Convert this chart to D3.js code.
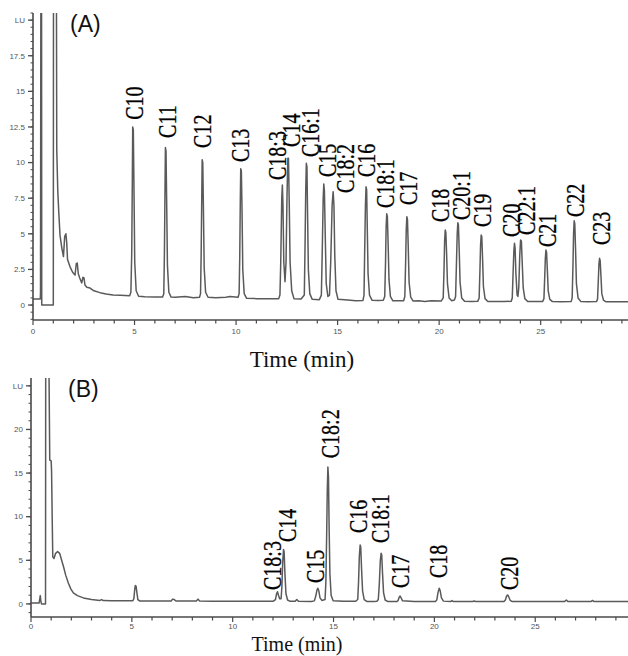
<!DOCTYPE html>
<html>
<head>
<meta charset="utf-8">
<script src="https://cdn.jsdelivr.net/npm/d3@7"></script>
<style>
  body { margin: 0; background: #fff; }
  svg { display: block; }
</style>
</head>
<body>
<div id="chart"></div>
<script>
////////////////////////////////////////////////////////////////////////
// Data, [time (min), signal (LU)]

// (A) standard mixture
let traceA = [
  [0,0.42],[0.36,0.42],[0.37,0.9],[0.39,25],[0.42,25],[0.43,0],[1.0,0],[1.01,25],[1.15,25],
  [1.17,10.9],[1.22,8],[1.27,6.5],[1.33,4.9],[1.42,4.0],[1.5,3.4],[1.56,4.8],[1.62,5.0],[1.66,4.4],
  [1.7,3.2],[1.82,2.7],[1.95,2.3],[2.07,2.1],[2.13,2.9],[2.18,2.95],[2.23,2.2],[2.3,1.9],[2.4,1.55],
  [2.46,1.95],[2.51,1.9],[2.56,1.4],[2.65,1.25],[2.81,1.19],[3.0,1.0],[3.3,0.87],[3.6,0.78],
  [3.94,0.7],[4.3,0.68],[4.76,0.66],
  [4.82,0.9],[4.86,3.5],[4.89,8.5],[4.91,12.5],[4.94,12.3],[4.97,8.5],[5.01,3.0],[5.08,1.0],[5.2,0.62],
  [5.5,0.58],[6.0,0.57],[6.38,0.56],
  [6.44,0.8],[6.47,3.5],[6.50,8],[6.52,11.05],[6.55,10.8],[6.58,7.5],[6.62,2.8],[6.69,0.9],[6.8,0.56],
  [7.0,0.55],[7.5,0.6],[7.9,0.52],[8.2,0.55],
  [8.25,0.8],[8.28,3.5],[8.31,7.5],[8.33,10.2],[8.36,10.0],[8.39,7.0],[8.43,2.6],[8.5,0.9],[8.62,0.55],
  [9.0,0.52],[9.5,0.55],[9.7,0.6],[10.1,0.55],
  [10.15,0.8],[10.18,3.3],[10.21,7.5],[10.23,9.57],[10.26,9.4],[10.29,7.0],[10.33,2.5],[10.4,0.8],[10.52,0.47],
  [11,0.45],[11.5,0.45],[12.1,0.45],
  [12.16,0.7],[12.2,3.0],[12.25,7.5],[12.28,8.43],[12.31,7.0],[12.35,3.0],[12.41,1.64],[12.46,3.0],
  [12.51,7.8],[12.55,10.3],[12.58,10.3],[12.62,7.0],[12.66,3.0],[12.74,1.0],[12.85,0.45],
  [13.2,0.42],
  [13.36,0.7],[13.39,3.5],[13.43,8],[13.46,9.95],[13.49,9.7],[13.52,6.5],[13.56,2.5],[13.63,0.8],[13.75,0.4],
  [14.1,0.38],
  [14.2,0.7],[14.24,3.5],[14.29,7.5],[14.32,8.5],[14.35,8.0],[14.39,5.0],[14.44,1.5],[14.52,0.6],
  [14.6,0.7],[14.66,3.0],[14.73,7.0],[14.78,7.96],[14.82,7.0],[14.86,3.5],[14.92,1.0],[15.02,0.4],
  [15.5,0.35],[15.9,0.3],[16.25,0.32],
  [16.3,0.7],[16.33,3.5],[16.37,7.0],[16.40,8.3],[16.43,8.1],[16.46,5.5],[16.5,2.2],[16.57,0.7],[16.7,0.33],
  [17.0,0.32],[17.25,0.33],
  [17.32,0.6],[17.36,3.0],[17.39,5.5],[17.42,6.4],[17.45,6.2],[17.49,4.2],[17.53,1.8],[17.6,0.6],[17.72,0.3],
  [18.0,0.3],[18.25,0.3],
  [18.31,0.6],[18.35,3.0],[18.38,5.3],[18.41,6.2],[18.44,6.0],[18.48,4.0],[18.52,1.6],[18.6,0.55],[18.72,0.28],
  [19.0,0.3],[19.3,0.25],[19.6,0.3],[20.1,0.28],
  [20.2,0.5],[20.24,2.5],[20.27,4.5],[20.30,5.27],[20.33,5.1],[20.37,3.5],[20.41,1.5],[20.49,0.5],
  [20.62,0.3],[20.75,0.35],[20.81,0.6],[20.85,2.8],[20.89,5.0],[20.92,5.78],[20.95,5.6],[20.99,3.8],
  [21.03,1.6],[21.11,0.5],[21.25,0.26],
  [21.6,0.25],[21.9,0.26],
  [21.97,0.5],[22.01,2.5],[22.04,4.2],[22.07,4.92],[22.1,4.8],[22.14,3.2],[22.18,1.3],[22.26,0.45],[22.4,0.25],
  [22.8,0.24],[23.2,0.25],[23.55,0.26],
  [23.6,0.5],[23.64,2.2],[23.68,3.8],[23.71,4.33],[23.74,4.0],[23.78,2.2],[23.84,0.7],[23.88,0.6],
  [23.92,1.2],[23.97,3.5],[24.01,4.56],[24.05,4.5],[24.09,3.0],[24.14,1.2],[24.22,0.45],[24.36,0.25],
  [24.7,0.24],[25.1,0.25],
  [25.16,0.45],[25.2,2.0],[25.23,3.3],[25.26,3.86],[25.29,3.7],[25.33,2.4],[25.37,1.0],[25.45,0.4],[25.58,0.24],
  [26.0,0.23],[26.5,0.24],
  [26.55,0.5],[26.59,2.8],[26.62,5.0],[26.65,5.92],[26.68,5.7],[26.72,3.8],[26.76,1.5],[26.84,0.5],[26.98,0.24],
  [27.3,0.23],[27.75,0.24],
  [27.8,0.42],[27.84,1.8],[27.87,2.9],[27.9,3.28],[27.93,3.1],[27.97,2.0],[28.01,0.8],[28.09,0.35],[28.22,0.23],
  [28.8,0.23],[29.4,0.23]
];

// peak names for (A) and where each name sits, [time, signal] of the foot of the text
let namesA  = ["C10","C11","C12","C13","C18:3","C14","C16:1","C15","C18:2","C16",
               "C18:1","C17","C18","C20:1","C19","C20","C22:1","C21","C22","C23"];
let nameTA  = [5.00, 6.60, 8.33, 10.20, 12.02, 12.73, 13.65, 14.51, 15.37, 16.40,
               17.34, 18.50, 20.07, 21.08, 22.12, 23.55, 24.29, 25.32, 26.70, 27.96];
let nameVA  = [13.0, 11.73, 11.03, 10.04, 8.78, 11.1, 10.39, 8.99, 7.87, 8.99,
               6.81, 7.02, 5.83, 5.97, 5.48, 4.78, 4.92, 4.07, 6.18, 4.21];

// (B) sample
let traceB = [
  [0,0.1],[0.4,0.1],[0.43,0.5],[0.46,0.95],[0.49,0.3],[0.52,0],[0.72,0],[0.73,30],[0.88,30],
  [0.93,16.5],[1.0,16.4],[1.02,15.2],[1.05,10],[1.08,5.4],[1.14,5.2],[1.22,5.8],[1.32,6.0],
  [1.42,5.8],[1.52,5.0],[1.62,4.2],[1.72,3.3],[1.85,2.4],[1.98,1.7],[2.1,1.26],[2.3,0.95],
  [2.6,0.69],[3.0,0.5],[3.42,0.4],[3.5,0.5],[3.58,0.38],[4.0,0.35],[4.5,0.35],[5.05,0.36],
  [5.1,0.6],[5.14,1.6],[5.17,2.1],[5.21,2.05],[5.25,1.3],[5.3,0.5],[5.4,0.33],
  [6.0,0.33],[6.95,0.33],[7.02,0.55],[7.1,0.5],[7.2,0.33],[8.2,0.33],[8.28,0.55],[8.36,0.33],
  [9,0.32],[10,0.3],[11,0.3],[12.0,0.3],
  [12.12,0.5],[12.18,1.2],[12.22,1.4],[12.27,1.0],[12.33,0.6],
  [12.4,0.6],[12.44,2.0],[12.48,4.8],[12.52,6.25],[12.55,6.0],[12.59,3.5],[12.64,1.2],[12.72,0.45],[12.85,0.3],
  [13.1,0.3],[13.18,0.5],[13.26,0.3],[13.9,0.28],
  [14.05,0.35],[14.12,0.9],[14.18,1.6],[14.22,1.8],[14.27,1.5],[14.33,0.7],[14.42,0.4],
  [14.58,0.5],[14.62,2.5],[14.66,8],[14.69,13],[14.72,15.7],[14.75,14.5],[14.78,9],[14.82,3.5],
  [14.88,1.0],[14.98,0.35],
  [15.5,0.3],[16.1,0.3],
  [16.2,0.5],[16.24,2.5],[16.28,5.5],[16.32,6.75],[16.35,6.5],[16.39,4.0],[16.44,1.5],[16.52,0.5],[16.65,0.28],
  [17.0,0.27],[17.15,0.3],
  [17.22,0.5],[17.27,2.3],[17.32,5.0],[17.36,5.8],[17.39,5.6],[17.43,3.5],[17.48,1.3],[17.56,0.45],[17.7,0.27],
  [18.15,0.27],
  [18.2,0.4],[18.26,0.8],[18.3,0.9],[18.35,0.7],[18.42,0.35],
  [19,0.27],[20.05,0.27],
  [20.12,0.45],[20.18,1.3],[20.24,1.8],[20.29,1.5],[20.35,0.7],[20.45,0.32],
  [20.8,0.27],[20.87,0.38],[20.94,0.27],[21.9,0.27],[21.97,0.33],[22.04,0.27],[23.45,0.27],
  [23.52,0.45],[23.58,0.9],[23.63,1.03],[23.68,0.85],[23.76,0.4],[23.86,0.27],
  [26.45,0.27],[26.54,0.45],[26.63,0.27],[27.76,0.27],[27.84,0.4],[27.92,0.27],[29.7,0.27]
];

let namesB = ["C18:3","C14","C15","C18:2","C16","C18:1","C17","C18","C20"];
let nameTB = [11.98, 12.72, 14.11, 14.83, 16.24, 17.31, 18.33, 20.21, 23.71];
let nameVB = [1.6, 7.09, 2.40, 16.7, 8.12, 6.98, 1.83, 2.97, 1.6];

// axis ticks
let xTicks  = [0, 5, 10, 15, 20, 25];
let yTicksA = [0, 2.5, 5, 7.5, 10, 12.5, 15, 17.5, 20];
let yTicksB = [0, 5, 10, 15, 20, 25];
let unitLabel = "LU";   // the top tick carries the unit instead of a number

////////////////////////////////////////////////////////////////////////
// Drawing

let svg = d3.select("#chart").append("svg")
  .attr("width", 628)
  .attr("height", 656);

let axisColor = "#4a4a4a";
let traceColor = "#5a5a5a";
let serif = "'Liberation Serif', 'Times New Roman', Times, serif";
let sans = "'Liberation Sans', Arial, sans-serif";

// one chromatogram panel
function drawPanel(p) {
  let x = d3.scaleLinear().domain(p.xDomain).range([p.left, p.right]);
  let y = d3.scaleLinear().domain(p.yDomain).range([p.bottom, p.top]);
  let g = svg.append("g");

  let clipId = "clip-" + p.tag;
  g.append("clipPath").attr("id", clipId)
    .append("rect")
    .attr("x", p.left).attr("y", p.top)
    .attr("width", p.right - p.left).attr("height", p.bottom - p.top);

  // trace
  let line = d3.line().x(d => x(d[0])).y(d => y(d[1]));
  g.append("path")
    .datum(p.trace)
    .attr("clip-path", "url(#" + clipId + ")")
    .attr("d", line)
    .attr("fill", "none")
    .attr("stroke", traceColor)
    .attr("stroke-width", 1.5)
    .attr("stroke-linejoin", "round");

  // x axis: line, minor ticks every minute, labelled every 5
  g.append("line")
    .attr("x1", p.left).attr("x2", p.right)
    .attr("y1", p.bottom).attr("y2", p.bottom)
    .attr("stroke", axisColor).attr("stroke-width", 1.6);
  g.selectAll(".xminor")
    .data(d3.range(0, Math.floor(p.xDomain[1]) + 1))
    .enter().append("line")
    .attr("x1", d => x(d)).attr("x2", d => x(d))
    .attr("y1", p.bottom).attr("y2", d => p.bottom + (d % 5 === 0 ? 5 : 3.5))
    .attr("stroke", axisColor).attr("stroke-width", 1.2);
  g.selectAll(".xlab")
    .data(xTicks)
    .enter().append("text")
    .attr("x", d => x(d))
    .attr("y", p.bottom + p.xLabelDy)
    .attr("text-anchor", "middle")
    .attr("font-family", sans)
    .attr("font-size", 8)
    .attr("fill", "#555")
    .text(d => d);

  // y axis
  g.append("line")
    .attr("x1", p.left).attr("x2", p.left)
    .attr("y1", p.top).attr("y2", p.bottom)
    .attr("stroke", axisColor).attr("stroke-width", 1.6);
  let minorStep = p.yTicks[1] / 5;
  let minor = d3.range(Math.ceil(p.yDomain[0] / minorStep), Math.floor(p.yDomain[1] / minorStep) + 1)
    .map(i => i * minorStep);
  g.selectAll(".yminor")
    .data(minor)
    .enter().append("line")
    .attr("x1", p.left).attr("x2", p.left - 2.5)
    .attr("y1", d => y(d)).attr("y2", d => y(d))
    .attr("stroke", axisColor).attr("stroke-width", 1);
  g.selectAll(".ymajor")
    .data(p.yTicks)
    .enter().append("line")
    .attr("x1", p.left).attr("x2", p.left - 5)
    .attr("y1", d => y(d)).attr("y2", d => y(d))
    .attr("stroke", axisColor).attr("stroke-width", 1.3);
  g.selectAll(".ylab")
    .data(p.yTicks)
    .enter().append("text")
    .attr("x", p.left - 8)
    .attr("y", d => y(d))
    .attr("dy", "0.35em")
    .attr("text-anchor", "end")
    .attr("font-family", sans)
    .attr("font-size", 8)
    .attr("fill", "#555")
    .text((d, i) => i === p.yTicks.length - 1 ? unitLabel : d);

  // peak names, rotated
  g.selectAll(".peak")
    .data(p.names)
    .enter().append("text")
    .attr("transform", (d, i) =>
      "translate(" + x(p.nameT[i]) + "," + y(p.nameV[i]) + ") rotate(-90) scale(1,1.22)")
    .attr("dy", "0.36em")
    .attr("font-family", serif)
    .attr("font-size", 20)
    .attr("fill", "#000")
    .attr("stroke", "#000")
    .attr("stroke-width", 0.25)
    .text(d => d);

  // panel letter
  g.append("text")
    .attr("x", p.left + 37)
    .attr("y", p.top + p.letterDy)
    .attr("font-family", sans)
    .attr("font-size", 23)
    .attr("fill", "#111")
    .text(p.letter);

  // axis title
  g.append("text")
    .attr("x", p.titleX)
    .attr("y", p.titleY)
    .attr("text-anchor", "middle")
    .attr("font-family", serif)
    .attr("font-size", p.titleSize)
    .attr("fill", "#111")
    .text("Time (min)");
}

drawPanel({
  tag: "a", letter: "(A)", letterDy: 19,
  trace: traceA, names: namesA, nameT: nameTA, nameV: nameVA,
  xDomain: [0, 29.3], yDomain: [-1.05, 20.5], yTicks: yTicksA,
  left: 33, right: 628, top: 13, bottom: 320, xLabelDy: 14,
  titleX: 302, titleY: 367, titleSize: 23
});

drawPanel({
  tag: "b", letter: "(B)", letterDy: 19,
  trace: traceB, names: namesB, nameT: nameTB, nameV: nameVB,
  xDomain: [0, 29.6], yDomain: [-1.5, 25.9], yTicks: yTicksB,
  left: 31, right: 628, top: 378, bottom: 617, xLabelDy: 12,
  titleX: 297, titleY: 651, titleSize: 20
});
</script>
</body>
</html>
